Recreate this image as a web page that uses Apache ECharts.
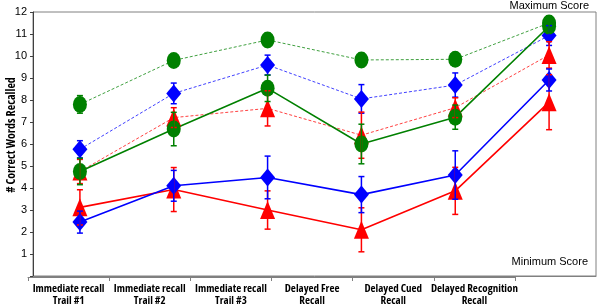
<!DOCTYPE html>
<html>
<head>
<meta charset="utf-8">
<script src="https://cdn.jsdelivr.net/npm/echarts@6/dist/echarts.min.js"></script>
<style>
html,body{margin:0;padding:0;background:#fff;}
#chart{width:605px;height:308px;}
</style>
</head>
<body>
<div id="chart"></div>
<script>
var categories = ['Immediate recall\nTrail #1', 'Immediate recall\nTrail #2', 'Immediate recall\nTrail #3', 'Delayed Free\nRecall', 'Delayed Cued\nRecall', 'Delayed Recognition\nRecall'];
var yTicks = [0, 1, 2, 3, 4, 5, 6, 7, 8, 9, 10, 11, 12];

var greenDashed = [7.8, 9.8, 10.73, 9.82, 9.85, 11.5];
var greenDashedErr = [0.4, 0.3, 0.3, 0.3, 0.3, 0.3];
var greenSolid = [4.75, 6.68, 8.53, 6.0, 7.22, 11.35];
var greenSolidErr = [0.6, 0.76, 0.6, 0.9, 0.55, 0.3];
var blueDashed = [5.76, 8.3, 9.59, 8.05, 8.68, 10.93];
var blueDashedErr = [0.39, 0.47, 0.45, 0.65, 0.55, 0.45];
var blueSolid = [2.45, 4.1, 4.48, 3.7, 4.59, 8.91];
var blueSolidErr = [0.5, 0.7, 0.97, 0.82, 1.1, 0.5];
var redDashed = [4.75, 7.2, 7.62, 6.4, 7.65, 10.05];
var redDashedErr = [0.55, 0.45, 0.8, 1.05, 0.45, 0.6];
var redSolid = [3.12, 3.93, 3.0, 2.1, 3.87, 7.9];
var redSolidErr = [0.8, 1.0, 0.87, 1.0, 1.07, 1.25];

var GREEN = '#008000', BLUE = '#0000FF', RED = '#FF0000';

function lineSeries(vals, color, dashed, symbol, size) {
  return {
    type: 'line', xAxisIndex: 0, yAxisIndex: 0,
    data: vals, symbol: symbol, symbolSize: size,
    itemStyle: {color: color, opacity: 1},
    lineStyle: dashed ? {color: color, width: 1, type: [3, 2], opacity: 0.75} : {color: color, width: 1.6},
    z: 3, animation: false
  };
}
function errSeries(vals, errs, color) {
  return {
    type: 'custom', xAxisIndex: 0, yAxisIndex: 0, z: 4, animation: false,
    data: vals.map(function (v, i) { return [i, v - errs[i], v + errs[i]]; }),
    renderItem: function (params, api) {
      var lo = api.coord([api.value(0), api.value(1)]);
      var hi = api.coord([api.value(0), api.value(2)]);
      var w = 3;
      var st = {stroke: color, lineWidth: 1.5};
      return {type: 'group', children: [
        {type: 'line', shape: {x1: lo[0], y1: lo[1], x2: hi[0], y2: hi[1]}, style: st},
        {type: 'line', shape: {x1: lo[0] - w, y1: lo[1], x2: lo[0] + w, y2: lo[1]}, style: st},
        {type: 'line', shape: {x1: hi[0] - w, y1: hi[1], x2: hi[0] + w, y2: hi[1]}, style: st}
      ]};
    }
  };
}

var circ = [14, 17], dia = [15, 18], tri = [15, 18];
var SANS = "'Liberation Sans', Arial, sans-serif";

var chart = echarts.init(document.getElementById('chart'), null, {renderer: 'canvas'});
chart.setOption({
  animation: false,
  grid: [
    {left: 33, right: 9, top: 12, bottom: 32, show: true, borderColor: '#808080', borderWidth: 1, backgroundColor: '#fff'},
    {left: 28, width: 487, top: 12, bottom: 31}
  ],
  xAxis: [
    {type: 'category', gridIndex: 0, data: categories, boundaryGap: true,
     axisLine: {show: true, lineStyle: {color: '#808080'}}, axisTick: {show: false}, axisLabel: {show: false}, splitLine: {show: false}},
    {type: 'category', gridIndex: 1, data: categories, boundaryGap: true,
     axisLine: {show: true, lineStyle: {color: '#808080'}},
     axisTick: {show: true, length: 4, lineStyle: {color: '#808080'}},
     axisLabel: {show: true, interval: 0, margin: 6, fontFamily: "'Open Sans'", fontWeight: 'bold condensed', fontSize: 11, lineHeight: 12, color: '#000'}}
  ],
  yAxis: [
    {type: 'value', gridIndex: 0, min: yTicks[0], max: yTicks[yTicks.length - 1], interval: 1,
     axisLine: {show: true, lineStyle: {color: '#404040'}},
     axisTick: {show: true, length: 3, inside: false, lineStyle: {color: '#404040'}},
     axisLabel: {fontFamily: SANS, fontSize: 11, color: '#000', margin: 6,
       formatter: function (v) { return v === 0 ? '' : String(v); }},
     splitLine: {show: false}},
    {type: 'value', gridIndex: 1, min: 0, max: 12, show: false}
  ],
  graphic: [
    {type: 'text', id: 'ytitle', x: 12, y: 135, rotation: Math.PI / 2, silent: true, z: 10,
     style: {text: '# Correct Words Recalled', font: "normal bold condensed 12px 'Open Sans'", fill: '#000', textAlign: 'center', textVerticalAlign: 'middle'}},
    {type: 'text', id: 'maxs', x: 589, y: 6, silent: true, z: 10,
     style: {text: 'Maximum Score', font: "normal normal 11px 'Liberation Sans'", fill: '#000', textAlign: 'right', textVerticalAlign: 'middle'}},
    {type: 'text', id: 'mins', x: 588, y: 262, silent: true, z: 10,
     style: {text: 'Minimum Score', font: "normal normal 11px 'Liberation Sans'", fill: '#000', textAlign: 'right', textVerticalAlign: 'middle'}}
  ],
  series: [
    lineSeries(greenDashed, GREEN, true, 'circle', circ),
    lineSeries(blueDashed, BLUE, true, 'diamond', dia),
    lineSeries(redDashed, RED, true, 'triangle', tri),
    lineSeries(greenSolid, GREEN, false, 'circle', circ),
    lineSeries(redSolid, RED, false, 'triangle', tri),
    lineSeries(blueSolid, BLUE, false, 'diamond', dia),
    errSeries(greenDashed, greenDashedErr, GREEN),
    errSeries(blueDashed, blueDashedErr, BLUE),
    errSeries(redDashed, redDashedErr, RED),
    errSeries(greenSolid, greenSolidErr, GREEN),
    errSeries(redSolid, redSolidErr, RED),
    errSeries(blueSolid, blueSolidErr, BLUE)
  ]
});
</script>
</body>
</html>
